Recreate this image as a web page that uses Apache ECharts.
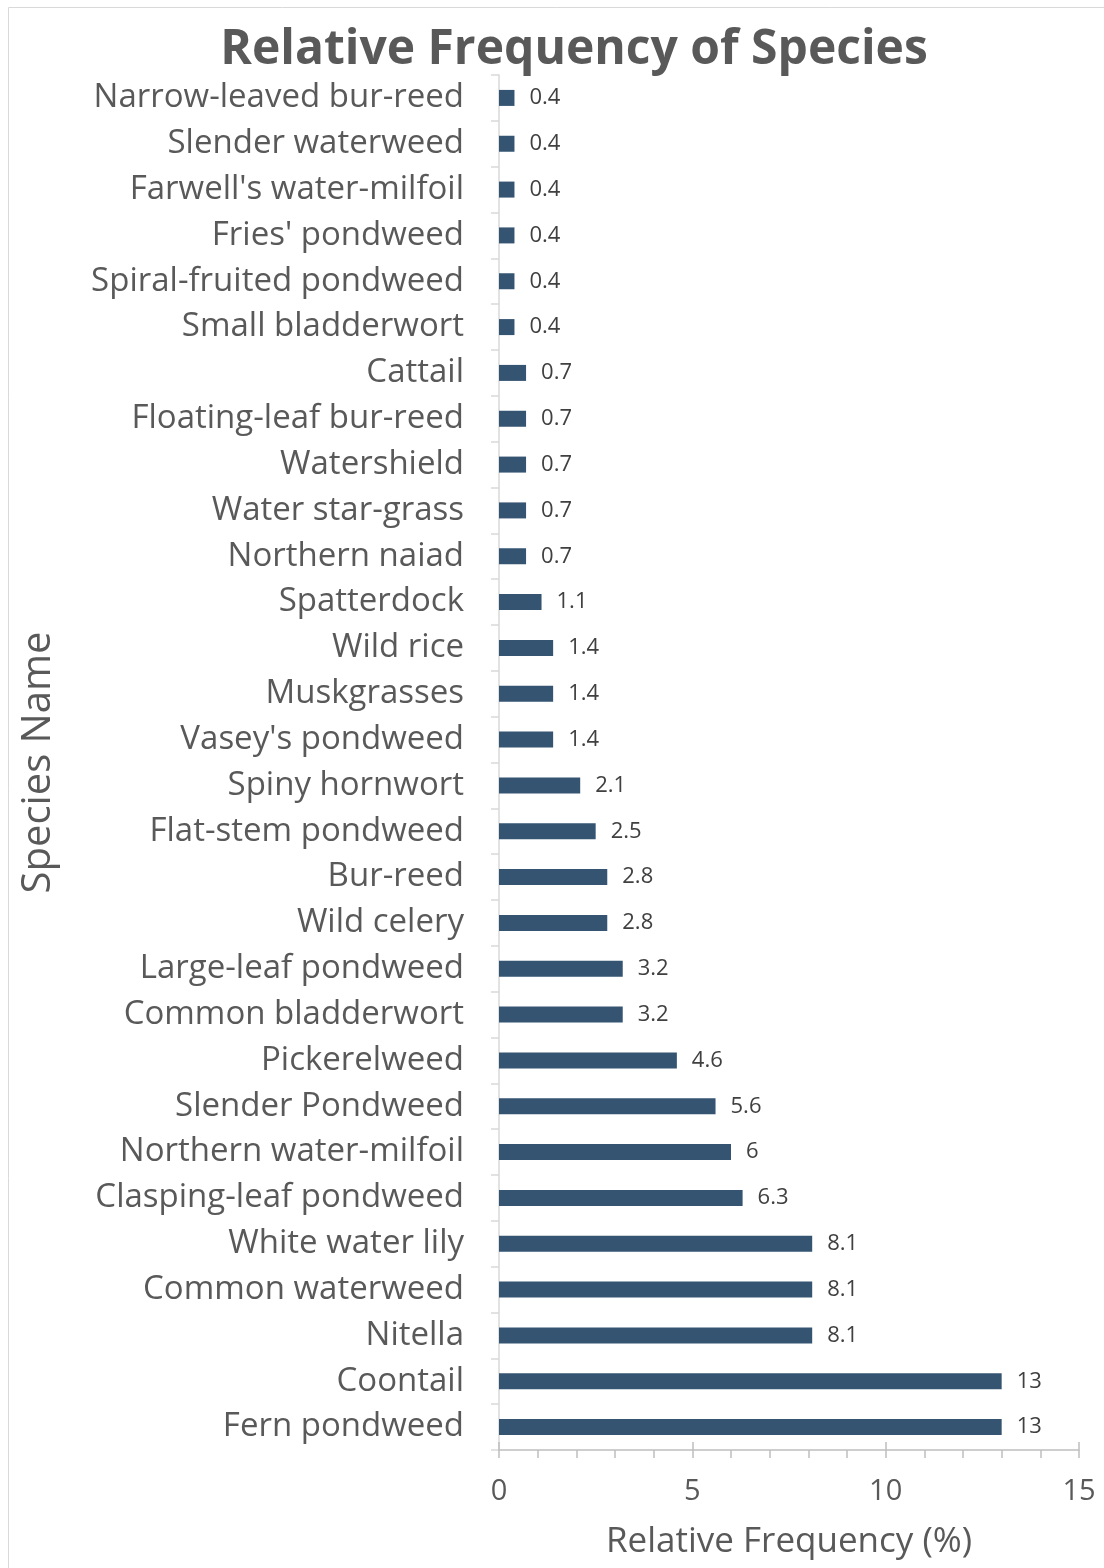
<!DOCTYPE html>
<html>
<head>
<meta charset="utf-8">
<script src="https://cdn.jsdelivr.net/npm/echarts@6/dist/echarts.min.js"></script>
<style>
  html, body { margin: 0; padding: 0; background: #fff; }
  #chart { width: 1104px; height: 1568px; }
</style>
</head>
<body>
<div id="chart"></div>
<script>
// species listed top to bottom as in the picture
const species = [
  'Narrow-leaved bur-reed', 'Slender waterweed', "Farwell's water-milfoil", "Fries' pondweed",
  'Spiral-fruited pondweed', 'Small bladderwort', 'Cattail', 'Floating-leaf bur-reed',
  'Watershield', 'Water star-grass', 'Northern naiad', 'Spatterdock', 'Wild rice',
  'Muskgrasses', "Vasey's pondweed", 'Spiny hornwort', 'Flat-stem pondweed', 'Bur-reed',
  'Wild celery', 'Large-leaf pondweed', 'Common bladderwort', 'Pickerelweed',
  'Slender Pondweed', 'Northern water-milfoil', 'Clasping-leaf pondweed', 'White water lily',
  'Common waterweed', 'Nitella', 'Coontail', 'Fern pondweed'
];
const frequency = [
  0.4, 0.4, 0.4, 0.4, 0.4, 0.4, 0.7, 0.7, 0.7, 0.7, 0.7, 1.1, 1.4, 1.4, 1.4,
  2.1, 2.5, 2.8, 2.8, 3.2, 3.2, 4.6, 5.6, 6, 6.3, 8.1, 8.1, 8.1, 13, 13
];
const xTicks = [0, 5, 10, 15];

const font = '"Open Sans", sans-serif';
const textColor = '#595959';

const chart = echarts.init(document.getElementById('chart'));

const option = {
  animation: false,
  backgroundColor: '#fff',
  graphic: [{
    type: 'rect',
    shape: { x: 8.5, y: 7.5, width: 1200, height: 1600 },
    style: { fill: 'none', stroke: '#d9d9d9', lineWidth: 1 },
    silent: true
  }],
  title: {
    text: 'Relative Frequency of Species',
    left: 569,
    textAlign: 'center',
    top: 21,
    textStyle: { fontFamily: font, fontWeight: 'bold', fontSize: 48, color: textColor }
  },
  grid: { left: 499, right: 25, top: 75, bottom: 118 },
  xAxis: [
    {
      type: 'value',
      min: xTicks[0],
      max: xTicks[xTicks.length - 1],
      interval: 5,
      name: 'Relative Frequency (%)',
      nameLocation: 'middle',
      nameGap: 75,
      nameTextStyle: { fontFamily: font, fontSize: 35, color: textColor },
      axisLine: { show: true, lineStyle: { color: '#bfbfbf', width: 1.5 } },
      axisTick: { show: true, inside: false, length: 8, lineStyle: { color: '#bfbfbf', width: 1.5 } },
      minorTick: { show: true, splitNumber: 5, length: 8, lineStyle: { color: '#bfbfbf', width: 1.5 } },
      axisLabel: { margin: 27, fontFamily: font, fontSize: 29, color: textColor },
      splitLine: { show: false }
    },
    {
      // upper half of the major ticks, which cross the axis line
      type: 'value',
      position: 'bottom',
      min: xTicks[0],
      max: xTicks[xTicks.length - 1],
      interval: 5,
      axisLine: { show: false },
      axisTick: { show: true, inside: true, length: 8, lineStyle: { color: '#bfbfbf', width: 1.5 } },
      axisLabel: { show: false },
      splitLine: { show: false }
    }
  ],
  yAxis: {
    type: 'category',
    inverse: true,
    data: species,
    name: 'Species Name',
    nameLocation: 'middle',
    nameGap: 440,
    nameTextStyle: { fontFamily: font, fontSize: 40, color: textColor },
    axisLine: { show: true, lineStyle: { color: '#d9d9d9', width: 1.5 } },
    axisTick: { show: true, length: 8, lineStyle: { color: '#d9d9d9', width: 1.5 } },
    axisLabel: { margin: 35, fontFamily: font, fontSize: 33, color: textColor }
  },
  series: [{
    type: 'bar',
    xAxisIndex: 0,
    data: frequency,
    barWidth: 16,
    itemStyle: { color: '#355472' },
    label: {
      show: true,
      position: 'right',
      distance: 15,
      fontFamily: font,
      fontSize: 22,
      color: '#404040'
    }
  }]
};

chart.setOption(option);
</script>
</body>
</html>
